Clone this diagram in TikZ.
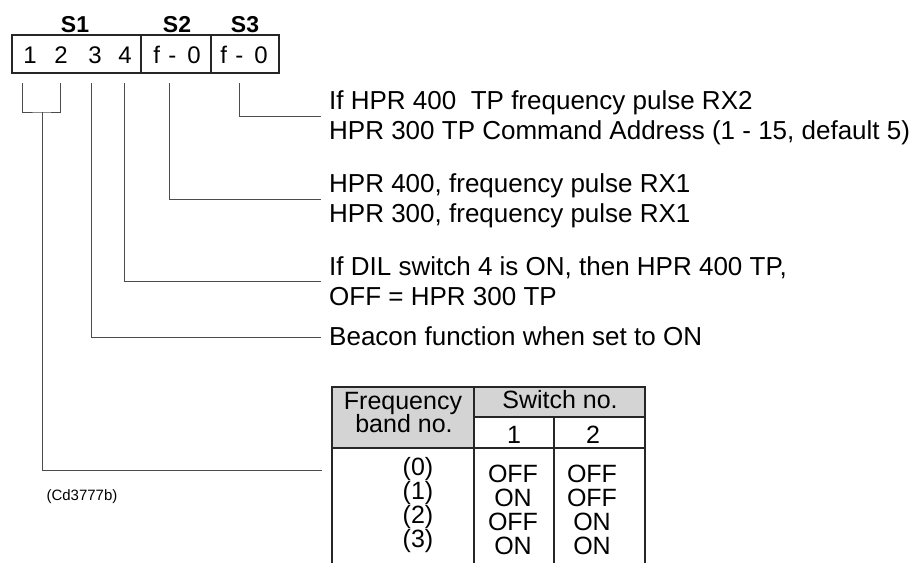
\documentclass[tikz,border=0pt]{standalone}
\usepackage{fontspec}
\setmainfont{Liberation Sans}
\tikzset{
  lead/.style={draw=black!70, line width=0.9pt},
  frame/.style={draw=black!85, line width=1.2pt},
  note/.style={anchor=west, align=left, inner xsep=8pt, inner ysep=0pt, font=\fontsize{26}{30}\selectfont},
  digit/.style={anchor=base, inner sep=0pt, font=\fontsize{24}{27}\selectfont},
  head/.style={anchor=base, inner sep=0pt, font=\bfseries\fontsize{23}{26}\selectfont},
  cell/.style={anchor=base, inner sep=0pt, font=\fontsize{25}{28}\selectfont}
}
\begin{document}
\begin{tikzpicture}[x=1pt,y=-1pt]
\useasboundingbox (0,0) rectangle (921,563);
% switch block
\draw[frame] (12,35) rectangle (279,73);
\draw[frame] (141,35) -- (141,73) (211,35) -- (211,73);
\node[head] (S1) at (75,32) {S1};
\node[head] (S2) at (177,32) {S2};
\node[head] (S3) at (245,32) {S3};
\foreach \n/\x in {1/30,2/61,3/95,4/125}
  \node[digit] (d\n) at (\x,63) {\n};
\node[digit] (f2) at (177,63) {f\hspace{.35em}-\hspace{.45em}0};
\node[digit] (f3) at (244,63) {f\hspace{.35em}-\hspace{.45em}0};
\foreach \n/\x in {a/22.7,b/60.7,3/91,4/124,f2/169,f3/239}
  \coordinate (tap\n) at (\x,83);
% notes
\node[note] (rx2) at (321,118) {If HPR 400\ \ TP frequency pulse RX2\\HPR 300 TP Command Address (1 - 15, default 5)};
\node[note] (rx1) at (321,201) {HPR 400, frequency pulse RX1\\HPR 300, frequency pulse RX1};
\node[note] (dil) at (321,281) {If DIL switch 4 is ON, then HPR 400 TP,\\OFF = HPR 300 TP};
\node[note] (beacon) at (321,336) {Beacon function when set to ON};
\draw[lead] (tapf3) |- ([yshift=2pt]rx2.west);
\draw[lead] (tapf2) |- ([yshift=2pt]rx1.west);
\draw[lead] (tap4) |- (dil.west);
\draw[lead] (tap3) |- ([yshift=-1pt]beacon.west);
\coordinate (bjoin) at (42,112);
\coordinate (bandend) at (322,470);
\draw[lead] (tapa) |- (bjoin) -| (tapb);
\draw[lead] (bjoin) |- (bandend);
% frequency band table
\fill[black!17] (332,387) rectangle (474,448);
\fill[black!17] (474,387) rectangle (645,417);
\draw[frame] (332,563) -- (332,387) -- (645,387) -- (645,563);
\draw[frame] (474,387) -- (474,563) (554,417) -- (554,563);
\draw[frame] (474,417) -- (645,417) (332,448) -- (645,448);
\node[cell] (fq) at (403,409) {Frequency};
\node[cell] (bn) at (404,432) {band no.};
\node[cell] (sw) at (560,408) {Switch no.};
\node[cell] (c1) at (514,443) {1};
\node[cell] (c2) at (593,443) {2};
\foreach \i/\a/\b [evaluate=\i as \y using 475+24*\i] in {0/OFF/OFF,1/ON/OFF,2/OFF/ON,3/ON/ON}{
  \node[cell] (band\i) at (418,\y) {(\i)};
  \node[cell] (one\i) at (513,\y+7) {\a};
  \node[cell] (two\i) at (592,\y+7) {\b};
}
\node[inner sep=0pt, font=\fontsize{15}{18}\selectfont] (code) at (82,497) {(Cd3777b)};
\end{tikzpicture}
\end{document}
